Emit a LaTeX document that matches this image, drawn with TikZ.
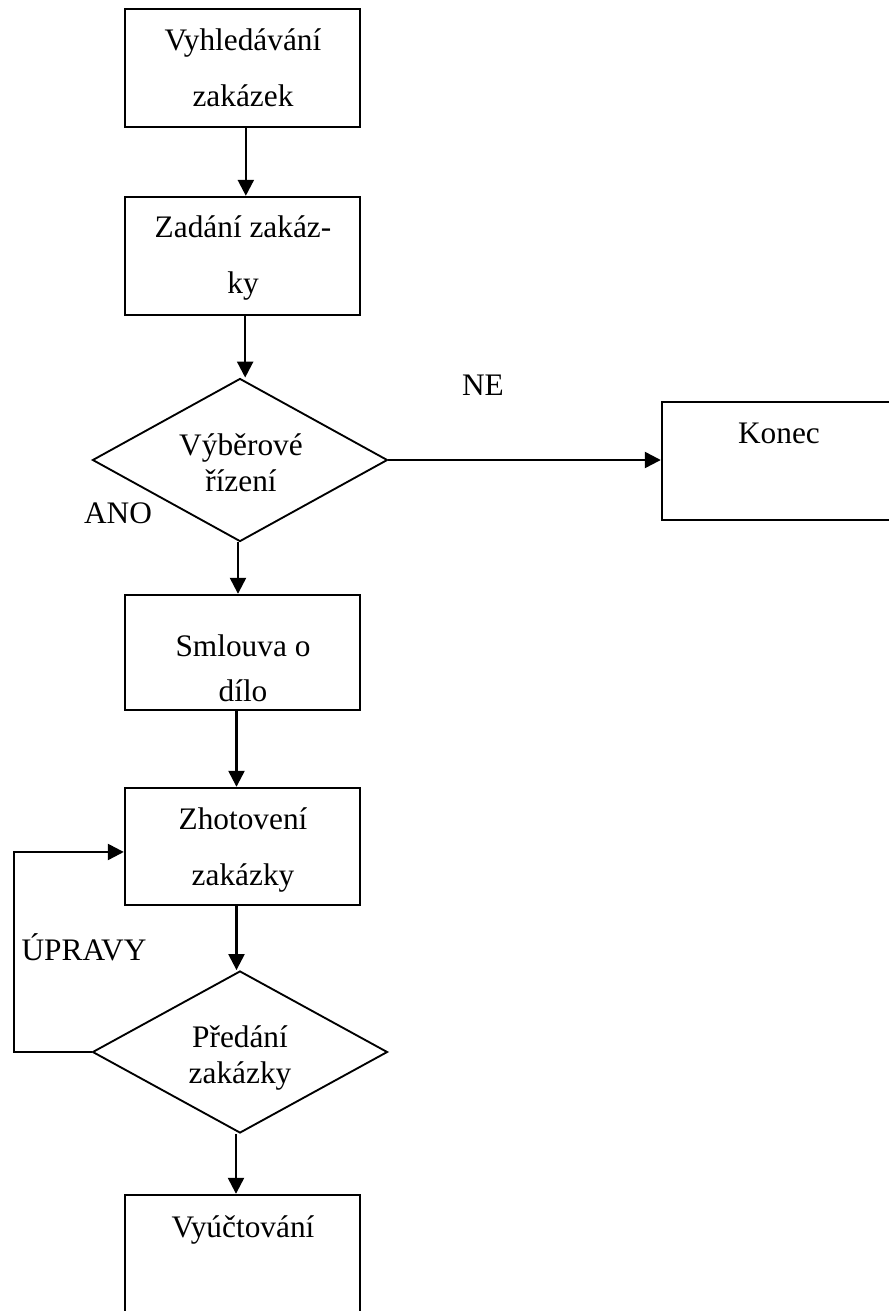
\documentclass[tikz,border=0pt]{standalone}
\usepackage{fontspec}
\setmainfont{Liberation Serif}
\usetikzlibrary{arrows.meta,shapes.geometric}
\begin{document}
\begin{tikzpicture}[x=0.75pt,y=-0.75pt,
  box/.style={draw, line width=1.8pt, rectangle, inner sep=0pt},
  decision/.style={draw, line width=1.4pt, diamond, inner sep=0pt},
  lbl/.style={inner sep=0pt, font=\fontsize{23.5pt}{28pt}\selectfont},
  boxtxt/.style={inner sep=0pt, align=center, font=\fontsize{23.5pt}{42pt}\selectfont},
  tighttxt/.style={inner sep=0pt, align=center, font=\fontsize{23.5pt}{34pt}\selectfont},
  dectxt/.style={inner sep=0pt, align=center, font=\fontsize{23.5pt}{27pt}\selectfont},
  arr/.style={line width=1.8pt, -{Triangle[length=12pt,width=12pt]}}]
\clip (0,0) rectangle (889,1311);

% process boxes and decisions
\node[box, minimum width=176.25pt, minimum height=88.5pt] (b1) at (242.5,68) {};
\node[box, minimum width=176.25pt, minimum height=88.5pt] (b2) at (242.5,256) {};
\node[decision, minimum width=221.25pt, minimum height=122.25pt] (d1) at (240,460) {};
\node[box, minimum width=175.5pt, minimum height=88.5pt] (k) at (779,461) {};
\node[box, minimum width=176.25pt, minimum height=86.25pt] (b3) at (242.5,652.5) {};
\node[box, minimum width=176.25pt, minimum height=87.75pt] (b4) at (242.5,846.5) {};
\node[decision, minimum width=221.25pt, minimum height=121.5pt] (d2) at (240,1052) {};
\node[box, minimum width=176.25pt, minimum height=108.75pt] (b5) at (242.5,1267.5) {};

% texts
\node[boxtxt] (t1) at (243,67.5) {Vyhledávání\\zakázek};
\node[boxtxt] (t2) at (243,258) {Zadání zakáz-\\ky};
\node[dectxt] (t3) at (241,462.5) {Výběrové\\řízení};
\node[lbl, anchor=base] (t4) at (779,443) {Konec};
\node[tighttxt] (t5) at (243,668) {Smlouva o\\dílo};
\node[boxtxt] (t6) at (243,850) {Zhotovení\\zakázky};
\node[dectxt] (t7) at (240,1058) {Předání\\zakázky};
\node[lbl, anchor=base] (t8) at (243,1237) {Vyúčtování};

% branch labels
\node[lbl, anchor=base] (ne) at (483,395) {NE};
\node[lbl, anchor=base] (ano) at (118,523) {ANO};
\node[lbl, anchor=base] (upr) at (84,960) {ÚPRAVY};

% connectors
\draw[arr] ([xshift=2.5pt]b1.south) -- ([xshift=2.5pt]b1.south |- b2.north);
\draw[arr] ([xshift=2pt]b2.south) -- ([xshift=2pt]b2.south |- d1.north);
\draw[arr] ([xshift=-1.5pt]d1.south) -- ([xshift=-1.5pt]d1.south |- b3.north);
\draw[arr] (d1.east) -- (d1.east -| k.west);
\draw[arr] ([xshift=-4.5pt]b3.south) -- ([xshift=-4.5pt]b3.south |- b4.north);
\draw[arr] ([xshift=-4.5pt]b4.south) -- ([xshift=-4.5pt]b4.south |- d2.north);
\draw[arr] ([xshift=-3pt]d2.south) -- ([xshift=-3pt]d2.south |- b5.north);
\coordinate (lp) at (14,1052);
\draw[arr] (d2.west) -- (lp) |- ([yshift=-4.1pt]b4.west);
\end{tikzpicture}
\end{document}
